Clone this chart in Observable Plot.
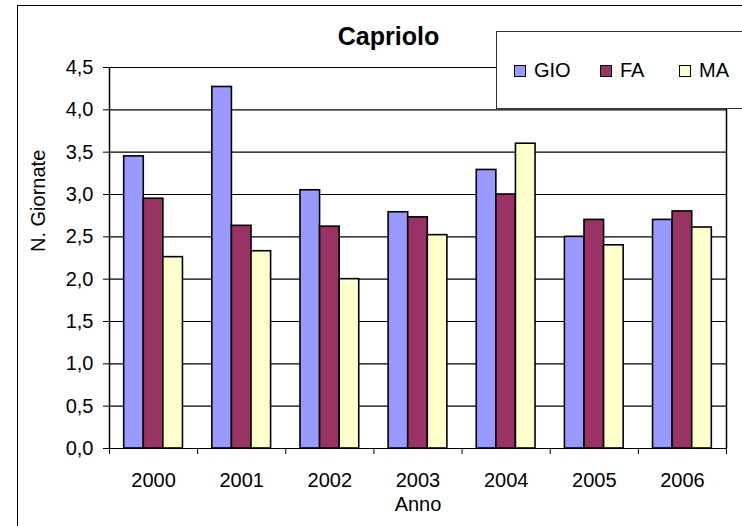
<!DOCTYPE html>
<html><head><meta charset="utf-8">
<script src="https://cdn.jsdelivr.net/npm/d3@7"></script>
<script src="https://cdn.jsdelivr.net/npm/@observablehq/plot@0.6"></script>
<style>
html,body{margin:0;padding:0;background:#fff;overflow:hidden;width:742px;height:526px}
#wrap{position:relative;width:742px;height:526px;font-family:"Liberation Sans",Arial,sans-serif;color:#000}
#chart{position:absolute;left:0;top:0}
#border{position:absolute;left:17px;top:5px;width:800px;height:600px;border:1.5px solid #000;box-sizing:border-box;pointer-events:none}
#title{position:absolute;left:0;width:777px;top:21px;text-align:center;font-weight:bold;font-size:25px;line-height:30px}
#legend{position:absolute;left:496px;top:31px;width:300px;height:78px;border:1.5px solid #333;box-sizing:border-box;background:#fff}
.item{position:absolute;top:26px;font-size:20px;line-height:24px;white-space:nowrap}
.sw{display:inline-block;width:10px;height:10px;border:1.5px solid #000;margin-right:8px;vertical-align:0px}
</style></head>
<body>
<div id="wrap">
  <div id="chart"></div>
  <div id="border"></div>
  <div id="title"></div>
  <div id="legend"></div>
</div>
<script>
const years = ["2000", "2001", "2002", "2003", "2004", "2005", "2006"];
const seriesNames = ["GIO", "FA", "MA"];
const gio = [3.45, 4.27, 3.05, 2.79, 3.29, 2.50, 2.70];
const fa  = [2.95, 2.63, 2.62, 2.73, 3.00, 2.70, 2.80];
const ma  = [2.26, 2.33, 2.00, 2.52, 3.60, 2.40, 2.61];
const seriesColors = ["#9999FF", "#993366", "#FFFFCC"];
const yTicks = [0, 0.5, 1, 1.5, 2, 2.5, 3, 3.5, 4, 4.5];
const titleText = "Capriolo";
const xLabel = "Anno";
const yLabel = "N. Giornate";

const values = [gio, fa, ma];
const rows = [];
years.forEach((y, i) => values.forEach((vals, k) => rows.push({year: y, yi: i, series: seriesNames[k], si: k, value: vals[i]})));
const groupShare = 2 / 3, barShare = groupShare / 3;
const fmt = d => d.toFixed(1).replace(".", ",");
const boundaries = d3.range(years.length + 1).map(i => i - 0.5);

const chart = Plot.plot({
  width: 742, height: 526,
  marginLeft: 109, marginRight: 16, marginTop: 67, marginBottom: 78,
  style: {fontFamily: '"Liberation Sans", Arial, sans-serif', fontSize: "20px", color: "#000", background: "transparent"},
  x: {type: "linear", domain: [-0.5, years.length - 0.5], ticks: boundaries, tickFormat: () => "", tickSize: 6, label: null},
  y: {domain: [0, 4.5], ticks: yTicks, tickFormat: fmt, tickSize: 6, tickPadding: 10, label: null},
  color: {domain: seriesNames, range: seriesColors},
  marks: [
    Plot.ruleY(yTicks, {stroke: "#000", strokeWidth: 1.2}),
    Plot.ruleX([-0.5, years.length - 0.5], {stroke: "#000", strokeWidth: 1.5}),
    Plot.rectY(rows, {
      x1: d => d.yi - groupShare / 2 + d.si * barShare,
      x2: d => d.yi - groupShare / 2 + (d.si + 1) * barShare,
      y: "value", fill: "series", stroke: "#000", strokeWidth: 1.6
    }),
    Plot.text(years, {x: (d, i) => i, frameAnchor: "bottom", dy: 38, fontSize: 20}),
    Plot.text([xLabel], {frameAnchor: "bottom", dy: 62, fontSize: 20}),
    Plot.text([yLabel], {frameAnchor: "left", dx: -71, dy: -6, rotate: -90, fontSize: 20})
  ]
});
document.getElementById("chart").appendChild(chart);
document.getElementById("title").textContent = titleText;

const legendX = [17, 103, 182];
const legend = document.getElementById("legend");
seriesNames.forEach((s, k) => {
  const it = document.createElement("div");
  it.className = "item";
  it.style.left = legendX[k] + "px";
  const sw = document.createElement("span");
  sw.className = "sw";
  sw.style.background = seriesColors[k];
  it.appendChild(sw);
  it.appendChild(document.createTextNode(s));
  legend.appendChild(it);
});
</script>
</body></html>
